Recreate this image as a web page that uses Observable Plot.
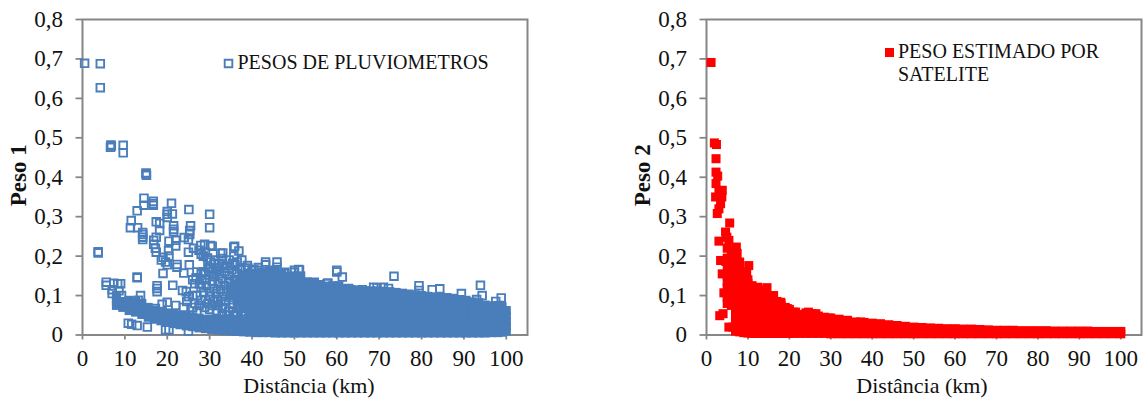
<!DOCTYPE html>
<html>
<head>
<meta charset="utf-8">
<script src="https://cdn.jsdelivr.net/npm/d3@7"></script>
<script src="https://cdn.jsdelivr.net/npm/@observablehq/plot@0.6"></script>
<style>
html,body{margin:0;padding:0;background:#fff}
#row{display:flex;width:1146px;height:407px}
svg{display:block;overflow:visible}
</style>
</head>
<body>
<div id="row"></div>
<script>
// x ticks / y ticks
const xTicks = [0,10,20,30,40,50,60,70,80,90,100];
const yTicks = [0,0.1,0.2,0.3,0.4,0.5,0.6,0.7,0.8];
const yTickLabels = ["0","0,1","0,2","0,3","0,4","0,5","0,6","0,7","0,8"];

const legendBlue = "PESOS DE PLUVIOMETROS";
const legendRed = "PESO ESTIMADO POR\nSATELITE";

// Peso 1: individually readable points  [km, peso]
const bluePoints = [
[0.5,.689],[4.2,.688],[4.2,.627],[6.7,.482],[6.8,.479],[6.6,.476],[9.6,.481],[9.6,.462],
[15,.411],[15,.408],[15.1,.405],[14.5,.347],[14.5,.329],[16.7,.339],[16.7,.333],[16.7,.329],
[21,.334],[12.9,.315],[25.1,.318],[20,.313],[20,.306],[20,.298],[21.2,.307],[11.5,.29],[11.3,.272],
[13,.272],[17.4,.287],[18.2,.283],[18.2,.265],[21.5,.277],[21.5,.268],[21.5,.262],[25.5,.277],[25.3,.265],
[25.3,.255],[30,.306],[30,.272],[3.7,.211],[3.7,.208],[14.2,.26],[14.2,.255],[14.2,.248],[14.2,.242],
[16.8,.24],[17.4,.248],[17.2,.22],[16.8,.23],[17.4,.21],[20.4,.238],[22,.24],[22,.226],[20.3,.214],
[25,.242],[25,.21],[26.2,.22],[24,.247],[19,.197],[19.6,.185],[20,.178],[19,.156],[18.6,.19],[20.4,.2],
[22.3,.179],[22.3,.172],[25.2,.178],[23.9,.157],[12.9,.147],[12.9,.145],[17.6,.125],[17.6,.118],[17.6,.11],
[21.3,.126],[23.6,.113],[24.5,.11],[25,.097],[26,.1],[26,.14],[26.5,.13],[27,.1],
[5.6,.134],[5.6,.126],[7.4,.131],[9,.13],[8.3,.13],[7,.115],[7,.105],[8.6,.112],[9.2,.1],
[10.8,.03],[11.6,.027],[12.9,.024],[15.3,.02],[19.6,.013],[20.4,.013],[25,.01],
[13.7,.1],[13.2,.088],[17.2,.067],[20,.083],[18.8,.078],[22,.075],[24.6,.085],[23.8,.07],[26,.07],
[27.9,.227],[28.8,.23],[27.5,.215],[28,.205],[30.2,.227],[29,.21],[29.5,.195],[30.2,.185],[28.5,.2],
[32.6,.207],[33,.194],[31,.18],[29,.16],[30,.17],[31.5,.165],[28,.155],[27,.16],[29,.14],[32,.17],[33.5,.17],
[35.7,.223],[36.9,.213],[35.7,.2],[36.5,.185],[38.9,.176],[35.9,.225],[33.1,.208],[30.6,.225],
[43.2,.185],[43.2,.178],[45.9,.185],[45.9,.172],[40,.164],[41.6,.164],[47.5,.156],[50,.159],[51,.166],
[40.4,.166],[41.5,.171],[47.7,.159],[50,.164],[51.2,.165],[54.7,.134],[57.9,.132],[60,.164],[60,.16],
[61.3,.147],[54.6,.13],[57.7,.13],[62.8,.118],[66,.115],[68.7,.121],[69.5,.12],[71,.121],[72.2,.118],
[73.5,.149],[79.4,.125],[79.4,.113],[82.5,.115],[84.3,.117],[89.4,.105],[93.9,.126],[94.3,.1],[98.8,.094],
[93,.09],[97.5,.085],[33,.068],[35.5,.058],[31,.085],[32,.075],[29,.09],[30,.11],[28,.12],
[27,.06],[27.5,.075],[33,.055],[30,.065]
];

// Peso 1: the squares that overlap without closing up, x 26 to 40
const blueTexture = [
[26.8,.145],[27.6,.13],[28.2,.142],[28.6,.108],[29.2,.125],[29.8,.152],[30.2,.098],[30.6,.135],[31,.118],[31,.148],
[31.5,.105],[31.8,.09],[32,.13],[32.3,.155],[32.6,.115],[33,.098],[33,.142],[33.4,.125],[33.6,.16],[33.8,.085],
[34,.11],[34.2,.175],[34.4,.135],[34.6,.15],[34.8,.095],[35,.122],[35.2,.165],[35.4,.08],[35.6,.108],[35.8,.14],
[36,.178],[36.2,.125],[36.4,.155],[36.6,.092],[36.8,.07],[37,.112],[37.2,.138],[37.4,.168],[37.6,.152],[37.8,.082],
[38,.125],[38.2,.1],[38.4,.165],[38.6,.14],[39,.115],[39.2,.075],[39.4,.155],[39.6,.09],[40,.13],[40.2,.105],
[28.5,.16],[29.6,.172],[30.8,.16],[31.2,.19],[32.2,.182],[33,.18],[34.6,.19],[35.4,.182],[37.6,.19],[39,.17],
[26.5,.08],[28,.088],[28.8,.07],[29.6,.08],[30.6,.075],[31.6,.062],[32.6,.085],[33.6,.07],[34.5,.06],[35.5,.07],
[36.5,.055],[37.5,.06],[38.5,.055],[34,.05],[36,.048],[38,.048]
];

// Peso 1: columns where the squares overlap until the blue is solid  [km, pesos...]
const blueSolid = [
[8,.075,.088,.1],[9.5,.07,.085],[11,.062,.075,.088],[12.5,.058,.072,.086],[14,.052,.066,.08],
[15.5,.045,.058,.07],[17,.04,.052,.062],[18.5,.036,.048,.06],[20,.032,.045,.056],[21.5,.029,.042,.054],
[23,.026,.038,.05],[24.5,.023,.036,.048],[26,.021,.034,.046],[27.5,.018,.031,.043],[29,.016,.029,.04],
[30.5,.014,.027,.04],[32,.012,.026,.04],
[33.5,.011,.025,.04],[35,.01,.024,.04,.1,.12],
[36.5,.009,.023,.038,.085,.1,.115,.13],[38,.008,.022,.036,.07,.085,.105,.12,.135,.15],
[39.5,.007,.021,.035,.049,.063,.077,.09,.105,.12,.135,.15],
[41,.006,.02,.034,.048,.062,.076,.09,.104,.118,.132,.146,.155],
[42.5,.006,.02,.034,.048,.062,.076,.09,.104,.118,.132,.146,.16],
[44,.006,.02,.034,.048,.062,.076,.09,.104,.118,.132,.146,.163],
[45.5,.005,.02,.034,.048,.062,.076,.09,.104,.118,.132,.146,.165],
[47,.005,.02,.034,.048,.062,.076,.09,.104,.118,.132,.146,.155],
[48.5,.005,.02,.034,.048,.062,.076,.09,.104,.118,.132,.148],
[50,.005,.02,.034,.048,.062,.076,.09,.104,.118,.132,.15],
[51.5,.005,.02,.034,.048,.062,.076,.09,.104,.118,.132,.15],
[53,.005,.02,.034,.048,.062,.076,.09,.104,.118,.135],
[54.5,.005,.02,.034,.048,.062,.076,.09,.104,.118,.128],
[56,.005,.02,.034,.048,.062,.076,.09,.104,.118,.128],
[57.5,.005,.02,.034,.048,.062,.076,.09,.104,.118,.124],
[59,.005,.02,.034,.048,.062,.076,.09,.104,.118,.125],
[60.5,.005,.02,.034,.048,.062,.076,.09,.104,.118,.125],
[62,.005,.02,.034,.048,.062,.076,.09,.104,.117],
[63.5,.005,.02,.034,.048,.062,.076,.09,.104,.115],
[65,.005,.02,.034,.048,.062,.076,.09,.104,.114],
[66.5,.005,.02,.034,.048,.062,.076,.09,.104,.112],
[68,.005,.02,.034,.048,.062,.076,.09,.104,.112],
[69.5,.005,.02,.034,.048,.062,.076,.09,.104,.112],
[71,.005,.02,.034,.048,.062,.076,.09,.104,.111],
[72.5,.005,.02,.034,.048,.062,.076,.09,.104,.11],
[74,.005,.02,.034,.048,.062,.076,.09,.108],
[75.5,.005,.02,.034,.048,.062,.076,.09,.106],
[77,.005,.02,.034,.048,.062,.076,.09,.104],
[78.5,.005,.02,.034,.048,.062,.076,.09,.102],
[80,.005,.02,.034,.048,.062,.076,.09,.1],
[81.5,.005,.02,.034,.048,.062,.076,.09,.098],
[83,.005,.02,.034,.048,.062,.076,.096],
[84.5,.005,.02,.034,.048,.062,.076,.096],
[86,.005,.02,.034,.048,.062,.076,.095],
[87.5,.005,.02,.034,.048,.062,.076,.093],
[89,.005,.02,.034,.048,.062,.076,.09],
[90.5,.005,.02,.034,.048,.062,.076,.088],
[92,.005,.02,.034,.048,.062,.076,.084],
[93.5,.005,.02,.034,.048,.062,.076,.082],
[95,.005,.02,.034,.048,.062,.076],
[96.5,.006,.02,.034,.048,.062,.074],
[98,.006,.02,.034,.048,.062,.075],
[99,.007,.02,.034,.048,.062,.072],
[100,.01,.022,.034,.048,.062]
];

// Peso 2: individually readable points  [km, peso]
const redPoints = [
[1.1,.691],[1.9,.487],[2.4,.483],[2.3,.447],[2.3,.413],[2.7,.403],[2.3,.384],[3.8,.367],[3,.362],
[2.2,.35],[3.7,.35],[3.4,.333],[2.6,.308],[3,.32],[5.6,.284],[4.6,.261],[4.9,.248],[3,.238],[5.4,.24],
[7.2,.223],[5,.22],[7.4,.207],[4.6,.187],[6.2,.215],[3.4,.189],[10.2,.176],[3.8,.155],[5,.17],[9.7,.16],
[4.2,.107],[5,.105],[14.6,.12],[12.4,.121],[16.2,.1],[17.9,.083],[3.2,.049],[4,.054],[5.4,.02],[6.4,.02],
[19.5,.067],[21.5,.058],[24.6,.058],[26.4,.054],[29.5,.043],[34,.037],[37.2,.033],[42,.028]
];

// Peso 2: columns where the squares overlap until the red is solid  [km, pesos...]
const redSolid = [
[5,.08,.095,.12,.135,.15,.195],[6,.075,.09,.105,.12,.135,.15,.165,.18,.195,.21],
[7,.01,.025,.04,.055,.07,.085,.1,.115,.13,.145,.16,.175,.19,.205],
[8,.008,.022,.036,.05,.065,.08,.095,.11,.125,.14,.155,.17,.185],
[9,.006,.02,.034,.048,.062,.076,.09,.104,.118,.132,.146,.155],
[10,.005,.019,.033,.047,.061,.075,.089,.103,.117,.131,.14],
[11,.004,.018,.032,.046,.06,.074,.088,.102,.116,.125],
[12,.004,.018,.032,.046,.06,.074,.088,.102,.116],
[13,.004,.018,.032,.046,.06,.074,.088,.1,.114],
[14,.004,.018,.032,.046,.06,.074,.09,.1,.112],
[15,.004,.018,.032,.046,.06,.074,.088,.1],
[16,.004,.018,.032,.046,.06,.074,.088,.098],
[17,.004,.018,.032,.046,.06,.074,.085],
[18,.004,.018,.032,.046,.06,.074,.08],
[19,.004,.018,.032,.046,.06,.07],[20,.004,.018,.032,.046,.06,.065],
[21,.004,.018,.032,.046,.058],[22.5,.004,.018,.032,.046,.052],[24,.004,.018,.032,.046,.056],
[25.5,.004,.018,.032,.046,.054],[27,.004,.018,.032,.048],[28.5,.004,.018,.032,.045],[30,.003,.017,.03,.043],
[32,.003,.017,.03,.04],[34,.003,.017,.03,.037],[36,.003,.017,.033],[38,.003,.017,.032],[40,.003,.017,.03],
[42,.003,.016,.028],[44,.003,.016,.026],[46,.003,.016,.024],[48,.003,.015,.022],[50,.003,.02],
[52,.003,.019],[54,.003,.018],[56,.003,.017],[58,.003,.016],[60,.003,.016],[62,.003,.015],[64,.003,.015],
[66,.003,.014],[68,.003,.013],[70,.003,.012],[72,.003,.012],[74,.003,.012],[76,.003,.011],[78,.003,.011],
[80,.003,.011],[82,.003,.011],[84,.003,.01],[86,.003,.01],[88,.003,.01],[90,.003,.01],[92,.003,.01],
[94,.003,.009],[96,.003,.009],[98,.003,.009],[100,.003,.009]
];

const expand = cols => cols.flatMap(([x, ...ys]) => ys.map(y => [x, y]));

const GREY = "#868686", BLUE = "#4a7ebb", RED = "#ff0000", INK = "#111";
const FONT = "'Liberation Serif','Times New Roman',serif";
const HOLLOW_R = 4.3, SOLID_R = 5.1;

function panel({marginLeft, marginRight, yTitle, xTitleDx, marks, legend, legendDx, legendDy, legendTextDx}) {
  return Plot.plot({
    width: 573, height: 407,
    marginLeft, marginRight, marginTop: 19, marginBottom: 72.5,
    x: {domain: [0, 105]},
    y: {domain: [0, 0.8]},
    style: {fontFamily: FONT, background: "white", color: INK},
    marks: [
      Plot.frame({stroke: GREY, strokeWidth: 2}),
      Plot.axisY({ticks: yTicks, tickFormat: (d) => yTickLabels[yTicks.indexOf(d)], label: null,
        tickSize: 6.5, tickPadding: 13, stroke: GREY, strokeWidth: 1.8, fill: INK, fontSize: 23}),
      Plot.axisX({ticks: xTicks, tickFormat: d => String(d), label: null,
        tickSize: 5, tickPadding: 10, stroke: GREY, strokeWidth: 1.8, fill: INK, fontSize: 23}),
      Plot.text([yTitle], {frameAnchor: "left", text: d => d, rotate: -90, dx: -64, dy: -2, textAnchor: "middle",
        fontWeight: "bold", fontSize: 23, fill: INK}),
      Plot.text(["Distância (km)"], {frameAnchor: "bottom", text: d => d, dx: xTitleDx, dy: 58,
        fontSize: 22, fill: INK}),
      ...marks,
      Plot.text([legend], {frameAnchor: "top-left", text: d => d, dx: legendDx + legendTextDx, dy: legendDy,
        textAnchor: "start", lineAnchor: "top", lineHeight: 1.12, fontSize: 20, fill: INK})
    ]
  });
}

const hollow = {x: "0", y: "1", symbol: "square", r: HOLLOW_R, fill: "none", stroke: BLUE, strokeWidth: 1.9};
const bluePanel = panel({
  marginLeft: 82, marginRight: 46, yTitle: "Peso 1", xTitleDx: 4,
  legend: legendBlue, legendDx: 146, legendDy: 34, legendTextDx: 9,
  marks: [
    Plot.dot(expand(blueSolid), {x: "0", y: "1", symbol: "square", r: SOLID_R, fill: BLUE, stroke: "none"}),
    Plot.dot(blueTexture, hollow),
    Plot.dot(bluePoints, hollow),
    Plot.dot([legendBlue], {frameAnchor: "top-left", dx: 146, dy: 44, symbol: "square", r: HOLLOW_R, fill: "none", stroke: BLUE, strokeWidth: 1.9})
  ]
});

const redPanel = panel({
  marginLeft: 133, marginRight: 5, yTitle: "Peso 2", xTitleDx: -2,
  legend: legendRed, legendDx: 183, legendDy: 23, legendTextDx: 8.5,
  marks: [
    Plot.dot(expand(redSolid), {x: "0", y: "1", symbol: "square", r: SOLID_R, fill: RED, stroke: "none"}),
    Plot.dot(redPoints, {x: "0", y: "1", symbol: "square", r: SOLID_R, fill: RED, stroke: "none"}),
    Plot.dot([legendRed], {frameAnchor: "top-left", dx: 183, dy: 33, symbol: "square", r: SOLID_R, fill: RED, stroke: "none"})
  ]
});

document.getElementById("row").append(bluePanel, redPanel);
</script>
</body>
</html>
